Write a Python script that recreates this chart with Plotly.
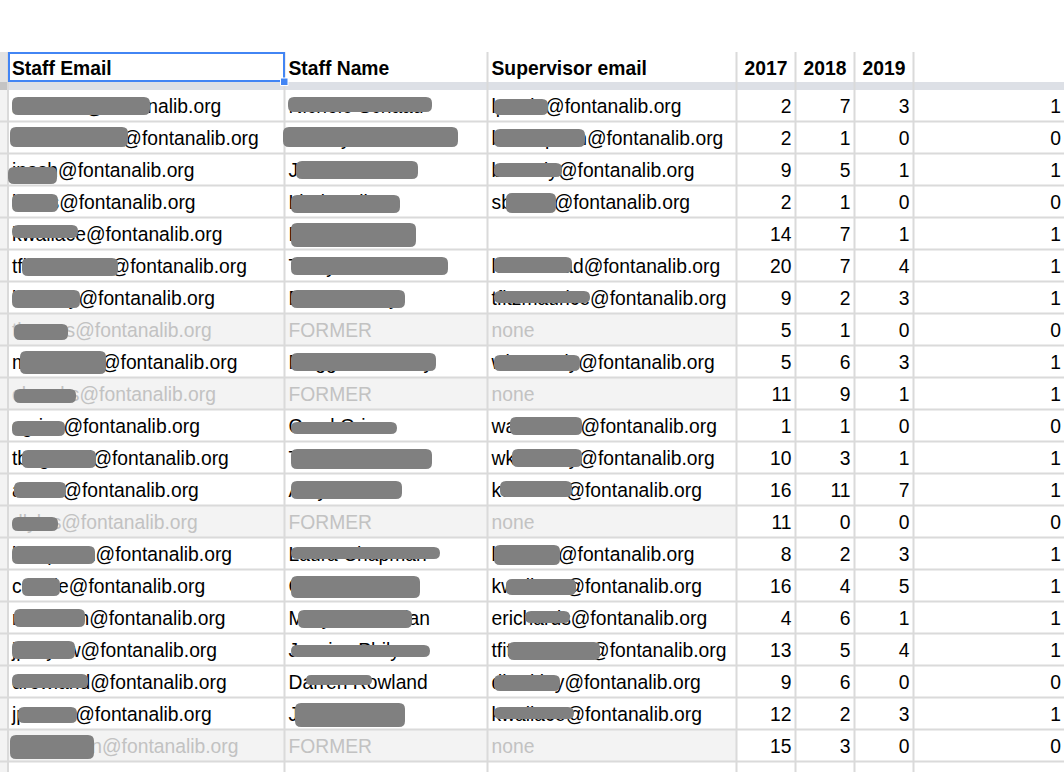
import plotly.graph_objects as go

# sheet columns (header row) and the visible rows
headers = ["Staff Email", "Staff Name", "Supervisor email", "2017", "2018", "2019"]
staff_user = ["nschaad", "tmwilliamson", "jnash", "lwiles", "kwallace", "tfitzmaurice",
              "bwoody", "thomas", "mkennedy", "cbrooks", "cgrise", "tbegnaud", "awest",
              "dlyles", "lchapman", "cdoole", "mlachlan", "jphilyaw", "drowland",
              "jpearce", "vanderson", "fiorentino"]
staff_name = ["Nichole Schaad", "Tammy Williamson", "Jeff Nash", "Linda Wiles",
              "Karen Wallace", "Tracy Fitzmaurice", "Brian Woody", "FORMER",
              "Maggie Kennedy", "FORMER", "Carol Grise", "Tina Begnaud", "Amy West",
              "FORMER", "Laura Chapman", "Cindy Doole", "Mary McLachlan",
              "Jessica Philyaw", "Darren Rowland", "Julie Pearce", "FORMER", "Evan Rogers"]
super_user = ["lpardo", "bthompson", "bwoody", "sbrown", "", "lwhitehead", "tfitzmaurice",
              "none", "wkennedy", "none", "wahlander", "wkennedy", "kwallace", "none",
              "bwoody", "kwallace", "erichards", "tfitzmaurice", "dbarkley", "kwallace",
              "none", "bwhitfield"]
y2017 = [2, 2, 9, 2, 14, 20, 9, 5, 5, 11, 1, 10, 16, 11, 8, 16, 4, 13, 9, 12, 15, 6]
y2018 = [7, 1, 5, 1, 7, 7, 2, 1, 6, 9, 1, 3, 11, 0, 2, 4, 6, 5, 6, 2, 3, 1]
y2019 = [3, 0, 1, 0, 1, 4, 3, 0, 3, 1, 0, 1, 7, 0, 3, 5, 1, 4, 0, 3, 0, 1]
flag = [1, 0, 1, 0, 1, 1, 1, 0, 1, 1, 0, 1, 1, 0, 1, 1, 1, 1, 0, 1, 0, 1]
DOMAIN = "@fontanalib.org"

# redaction smears: (column, row, x0, x1, top, bottom) relative to row centre
redact = [
    (0, 0, 12, 150, -10, 8), (0, 1, 10, 128, -12, 8), (0, 2, 8, 57, -4, 13),
    (0, 3, 12, 58, -9, 9), (0, 4, 12, 78, -10, 3), (0, 5, 22, 118, -9, 9),
    (0, 6, 12, 80, -9, 9), (0, 7, 14, 68, -7, 9), (0, 8, 20, 106, -12, 11),
    (0, 9, 14, 76, -6, 8), (0, 10, 12, 65, -6, 9), (0, 11, 22, 96, -9, 9),
    (0, 12, 14, 66, -9, 7), (0, 13, 12, 58, -6, 8), (0, 14, 12, 95, -9, 9),
    (0, 15, 22, 60, -9, 9), (0, 16, 14, 85, -10, 8), (0, 17, 12, 75, -10, 8),
    (0, 18, 12, 88, -9, 5), (0, 19, 18, 77, -8, 8), (0, 20, 10, 94, -12, 12),
    (1, 0, 288, 432, -10, 5), (1, 1, 283, 458, -12, 8), (1, 2, 296, 418, -10, 8),
    (1, 3, 291, 400, -8, 10), (1, 4, 291, 416, -12, 12), (1, 5, 291, 448, -10, 8),
    (1, 6, 291, 405, -9, 9), (1, 8, 291, 436, -10, 8), (1, 10, 291, 397, -5, 7),
    (1, 11, 291, 432, -10, 10), (1, 12, 291, 402, -10, 8), (1, 14, 291, 440, -8, 4),
    (1, 15, 291, 420, -11, 11), (1, 16, 298, 412, -9, 9), (1, 17, 291, 430, -6, 6),
    (1, 18, 306, 372, -8, 2), (1, 19, 295, 405, -12, 12),
    (2, 0, 494, 548, -8, 8), (2, 1, 494, 585, -10, 8), (2, 2, 494, 562, -8, 6),
    (2, 3, 506, 556, -10, 10), (2, 5, 494, 572, -10, 6), (2, 6, 494, 590, -8, 4),
    (2, 8, 494, 580, -8, 8), (2, 10, 510, 582, -10, 8), (2, 11, 512, 582, -10, 8),
    (2, 12, 500, 572, -10, 6), (2, 14, 494, 560, -10, 10), (2, 15, 506, 576, -8, 8),
    (2, 16, 525, 570, -8, 4), (2, 17, 508, 600, -9, 9), (2, 18, 494, 560, -8, 8),
    (2, 19, 494, 574, -8, 4),
]

W, H = 1064, 772
col_edges = [8, 284.5, 487.5, 736.5, 795.5, 854.5, 913.5, 1200]
HEAD_TOP, HEAD_BOT, BAR_BOT = 52, 82, 90
ROW_H = 32
FONT = "Arial, Liberation Sans, sans-serif"
GRID = "#dadada"
BLUE = "#4285f4"
FSIZE = 19.3
TEXT_DY = 2.5


def row_mid(i):
    return BAR_BOT + ROW_H * i + ROW_H / 2


def blob(x0, x1, y0, y1):
    r = min(6, (y1 - y0) / 2)
    return (f"M{x0 + r},{y0} L{x1 - r},{y0} Q{x1},{y0} {x1},{y0 + r} "
            f"L{x1},{y1 - r} Q{x1},{y1} {x1 - r},{y1} L{x0 + r},{y1} "
            f"Q{x0},{y1} {x0},{y1 - r} L{x0},{y0 + r} Q{x0},{y0} {x0 + r},{y0} Z")


shapes = []
n_rows = len(y2017)

# left row-header strip
shapes.append(dict(type="rect", x0=0, x1=8, y0=HEAD_TOP, y1=BAR_BOT, fillcolor="#e3e3e3",
                   line_width=0, layer="below"))
shapes.append(dict(type="rect", x0=0, x1=8, y0=BAR_BOT, y1=H, fillcolor="#f3f3f3",
                   line_width=0, layer="below"))

# greyed rows for former staff
for i, name in enumerate(staff_name):
    if name == "FORMER":
        top = BAR_BOT + ROW_H * i
        shapes.append(dict(type="rect", x0=8, x1=col_edges[3], y0=top, y1=top + ROW_H,
                           fillcolor="#f3f3f3", line_width=0, layer="below"))

# frozen-row bar
shapes.append(dict(type="rect", x0=8, x1=W, y0=HEAD_BOT, y1=BAR_BOT, fillcolor="#dde0e6",
                   line_width=0, layer="below"))
shapes.append(dict(type="rect", x0=0, x1=8, y0=HEAD_BOT, y1=BAR_BOT, fillcolor="#c4c4c4",
                   line_width=0, layer="below"))

# vertical grid lines
for x in col_edges[:-1]:
    shapes.append(dict(type="line", x0=x, x1=x, y0=HEAD_TOP, y1=H,
                       line=dict(color=GRID, width=2), layer="below"))
# horizontal grid lines
for i in range(1, n_rows + 1):
    y = BAR_BOT + ROW_H * i - 0.5
    shapes.append(dict(type="line", x0=0, x1=W, y0=y, y1=y,
                       line=dict(color=GRID, width=2), layer="below"))

# redaction smears (drawn above the text traces)
for c, r, x0, x1, t, b in redact:
    ym = row_mid(r) + 1
    shapes.append(dict(type="path", path=blob(x0, x1, ym + t, ym + b), fillcolor="#808080",
                       line_width=0, layer="above"))

# selected cell
shapes.append(dict(type="rect", x0=9, x1=284, y0=HEAD_TOP + 1, y1=HEAD_BOT - 1,
                   line=dict(color=BLUE, width=2), layer="above"))
shapes.append(dict(type="rect", x0=280.5, x1=288, y0=78, y1=85.5, fillcolor=BLUE,
                   line=dict(color="white", width=1), layer="above"))

# text groups: (x list, y list, text list)
groups = {"left_black": ([], [], []), "left_grey": ([], [], []), "right_black": ([], [], [])}
head_mid = (HEAD_TOP + HEAD_BOT) / 2 + 1 + TEXT_DY

for i in range(n_rows):
    ym = row_mid(i) + TEXT_DY
    key = "left_grey" if staff_name[i] == "FORMER" else "left_black"
    gx, gy, gt = groups[key]
    cells = [staff_user[i] + DOMAIN, staff_name[i]]
    sup = super_user[i]
    if sup:
        cells.append(sup if sup == "none" else sup + DOMAIN)
    for c, txt in enumerate(cells):
        gx.append(col_edges[c] + 4)
        gy.append(ym)
        gt.append(txt)
    rx, ry, rt = groups["right_black"]
    for c, vals in zip([3, 4, 5], [y2017, y2018, y2019]):
        rx.append(col_edges[c + 1] - 4)
        ry.append(ym)
        rt.append(str(vals[i]))
    rx.append(W - 3)
    ry.append(ym)
    rt.append(str(flag[i]))

fig = go.Figure()
for key, (gx, gy, gt) in groups.items():
    fig.add_trace(go.Scatter(
        x=gx, y=gy, text=gt, mode="text",
        textposition="middle left" if key.startswith("right") else "middle right",
        textfont=dict(family=FONT, size=FSIZE,
                      color="#c2c2c2" if key == "left_grey" else "#000000"),
        hoverinfo="skip", showlegend=False, cliponaxis=False))

# header row
hx, ht, hpos = [], [], []
for c, h in enumerate(headers):
    if c < 3:
        hx.append(col_edges[c] + 4)
        hpos.append("middle right")
    else:
        hx.append((col_edges[c] + col_edges[c + 1]) / 2)
        hpos.append("middle center")
    ht.append(h)
fig.add_trace(go.Scatter(
    x=hx, y=[head_mid] * len(hx), text=ht, mode="text", textposition=hpos,
    textfont=dict(family=FONT, size=FSIZE, color="#000000", weight="bold"),
    hoverinfo="skip", showlegend=False, cliponaxis=False))

fig.update_layout(
    width=W, height=H, margin=dict(l=0, r=0, t=0, b=0),
    paper_bgcolor="white", plot_bgcolor="white",
    xaxis=dict(range=[0, W], visible=False, fixedrange=True),
    yaxis=dict(range=[H, 0], visible=False, fixedrange=True),
    shapes=shapes, showlegend=False,
)
fig.write_html("out.html", config={"displayModeBar": False},
               post_script="document.body.style.margin='0';document.body.style.overflow='hidden';")
